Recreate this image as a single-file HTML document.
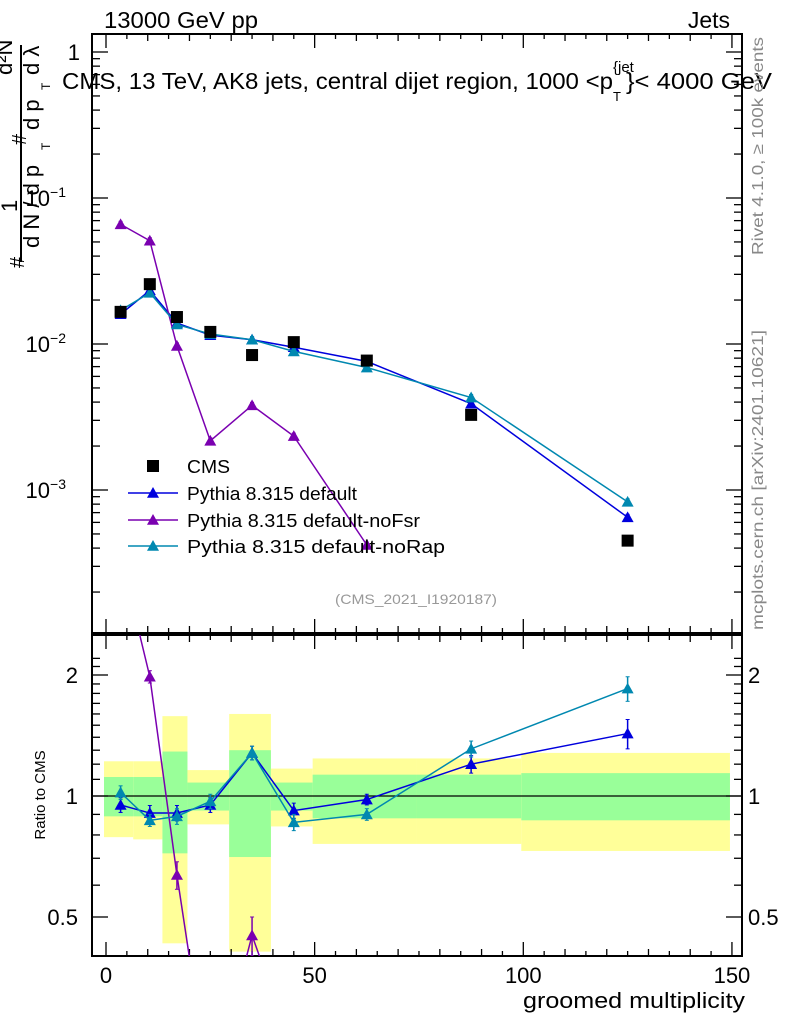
<!DOCTYPE html>
<html><head><meta charset="utf-8"><style>
html,body{margin:0;padding:0;background:#fff;overflow:hidden;width:786px;height:1024px}
svg{display:block;font-family:"Liberation Sans",sans-serif}
</style></head><body>
<svg id="c" width="786" height="1024" xmlns="http://www.w3.org/2000/svg"></svg>
<script>
const xCenters=[3.5,10.5,17,25,35,45,62.5,87.5,125];
const binEdges=[0,7,14,20,30,40,50,75,100,150];
const cmsVals=[0.0166,0.0257,0.0153,0.0121,0.0084,0.0103,0.0077,0.00327,0.00045];
const defVals=[0.0160,0.0233,0.0139,0.0115,0.0107,0.0095,0.0076,0.0039,0.00065];
const noRapVals=[0.0170,0.0224,0.0136,0.0117,0.0107,0.0089,0.0069,0.0043,0.00083];
const noFsrVals=[0.066,0.051,0.0097,0.00217,0.0038,0.00234,0.00042];
const defRatio=[0.95,0.907,0.907,0.95,1.28,0.92,0.98,1.2,1.43];
const noRapRatio=[1.02,0.87,0.89,0.97,1.28,0.86,0.90,1.31,1.85];
const noFsrRatio=[3.97,1.98,0.636,0.18,0.45,0.23,0.05];
const defRatioErr=[0.04,0.04,0.04,0.04,0.05,0.04,0.03,0.06,0.12];
const noRapRatioErr=[0.04,0.03,0.04,0.04,0.05,0.04,0.03,0.06,0.13];
const noFsrRatioErr=[0.2,0.07,0.05,0.02,0.05,0.02,0.01];
const greenHi=[1.115,1.115,1.29,1.08,1.3,1.08,1.13,1.13,1.14];
const greenLo=[0.89,0.89,0.72,0.92,0.705,0.92,0.88,0.88,0.87];
const yellowHi=[1.22,1.22,1.58,1.16,1.6,1.17,1.24,1.24,1.28];
const yellowLo=[0.79,0.78,0.43,0.85,0.41,0.84,0.76,0.76,0.73];
const xTicks=[0,50,100,150];
const ratioTicks=[0.5,1,2];

const S=document.getElementById('c');const NS='http://www.w3.org/2000/svg';
function el(t,a,p){const e=document.createElementNS(NS,t);for(const k in a)e.setAttribute(k,a[k]);(p||S).appendChild(e);return e;}
const L=92,R=742,T1=34,B1=633,T2=635,B2=956;
const X=v=>106+v*4.173;
const Y=v=>344-Math.log10(v/0.01)*146;
const YR=r=>796-Math.log2(r)*121;
const defs=el('defs',{});
const c1=el('clipPath',{id:'cp1'},defs);el('rect',{x:L,y:T1,width:R-L,height:B1-T1},c1);
const c2=el('clipPath',{id:'cp2'},defs);el('rect',{x:L,y:T2,width:R-L,height:B2-T2},c2);
const bands=el('g',{'clip-path':'url(#cp2)'});

for(let i=0;i<xCenters.length;i++){
 const x0=X(binEdges[i])-2,x1=X(binEdges[i+1])-2;
 const y=el('rect',{x:x0,y:YR(yellowHi[i]),width:x1-x0,height:YR(yellowLo[i])-YR(yellowHi[i]),fill:'#ffff99'},bands);
 
 const g=el('rect',{x:x0,y:YR(greenHi[i]),width:x1-x0,height:YR(greenLo[i])-YR(greenHi[i]),fill:'#99ff99'},bands);
 
}
el('line',{x1:L,x2:R,y1:YR(1),y2:YR(1),stroke:'#000','stroke-width':1.3});
for(const [t,b] of [[T1,B1],[T2,B2]]){const f=el('rect',{x:L,y:t,width:R-L,height:b-t,fill:'none',stroke:'#000','stroke-width':2});}
for(let v=0;v<=150;v+=5){const maj=v%50==0;const l=maj?14:(v%10==0?7:5);const x=X(v);
 for(const [t,b] of [[T1,B1],[T2,B2]]){el('line',{x1:x,x2:x,y1:b,y2:b-l,stroke:'#000','stroke-width':1.3});el('line',{x1:x,x2:x,y1:t,y2:t+l,stroke:'#000','stroke-width':1.3});}}
xTicks.forEach(v=>{const t=el('text',{x:X(v),y:983,'font-size':22,'text-anchor':'middle'});t.textContent=v;});
const xt=el('text',{x:523,y:1008,'font-size':22,textLength:222,lengthAdjust:'spacingAndGlyphs'});xt.textContent='groomed multiplicity';

for(let d=-4;d<=0;d++){for(let m=1;m<10;m++){const v=m*Math.pow(10,d);const y=Y(v);if(y<T1||y>B1)continue;const l=m==1?16:8;
 el('line',{x1:L,x2:L+l,y1:y,y2:y,stroke:'#000','stroke-width':1.3});el('line',{x1:R,x2:R-l,y1:y,y2:y,stroke:'#000','stroke-width':1.3});}}
const yl=[[1,'1',''],[0.1,'10','−1'],[0.01,'10','−2'],[0.001,'10','−3']];
yl.forEach(([v,b,e])=>{const t=el('text',{x:e?66:80,y:Y(v)+8,'font-size':22,'text-anchor':'end'});t.textContent=b;
 if(e){const s=el('tspan',{dy:-9,'font-size':14},t);s.textContent=e;}
 });
for(let r=0.4;r<=2.25;r+=0.1){const y=YR(r);if(y<T2||y>B2)continue;const maj=[0.5,1,2].some(q=>Math.abs(q-r)<1e-6);const l=maj?16:8;
 el('line',{x1:L,x2:L+l,y1:y,y2:y,stroke:'#000','stroke-width':1.3});el('line',{x1:R,x2:R-l,y1:y,y2:y,stroke:'#000','stroke-width':1.3});}
ratioTicks.forEach(r=>{for(const [x,a] of [[78,'end'],[748,'start']]){const t=el('text',{x:x,y:YR(r)+8,'font-size':22,'text-anchor':a});t.textContent=r;}});
const rt=el('text',{transform:'translate(45,795) rotate(-90)','font-size':15,'text-anchor':'middle'});rt.textContent='Ratio to CMS';

function tri(g,x,y,c,s){el('path',{d:`M${x},${y-s} L${x+s},${y+s*0.8} L${x-s},${y+s*0.8} Z`,fill:c},g);}
function series(name,xs,vals,yf,c,clip,errs){const g=el('g',{'clip-path':clip});
 el('polyline',{points:vals.map((v,i)=>X(xs[i])+','+yf(v)).join(' '),fill:'none',stroke:c,'stroke-width':1.5},g);
 vals.forEach((v,i)=>{const x=X(xs[i]),y=yf(v);let y1=y-3,y2=y+3;
  if(errs){y1=yf(v+errs[i]);y2=yf(Math.max(v-errs[i],0.01));}
  el('line',{x1:x,x2:x,y1:y1,y2:y2,stroke:c,'stroke-width':1.5},g);el('line',{x1:x-2,x2:x+2,y1:y1,y2:y1,stroke:c},g);el('line',{x1:x-2,x2:x+2,y1:y2,y2:y2,stroke:c},g);tri(g,x,y,c,6);});}
series('pythia-default-line',xCenters,defVals,Y,'#0000dd','url(#cp1)',null);
series('pythia-nofsr-line',xCenters,noFsrVals,Y,'#7a00b0','url(#cp1)',null);
series('pythia-norap-line',xCenters,noRapVals,Y,'#0088b0','url(#cp1)',null);
const cg=el('g',{'clip-path':'url(#cp1)'});
cmsVals.forEach((v,i)=>{el('rect',{x:X(xCenters[i])-6,y:Y(v)-6,width:12,height:12,fill:'#000'},cg);});
series('ratio-default',xCenters,defRatio,YR,'#0000dd','url(#cp2)',defRatioErr);
series('ratio-nofsr',xCenters,noFsrRatio,YR,'#7a00b0','url(#cp2)',noFsrRatioErr);
series('ratio-norap',xCenters,noRapRatio,YR,'#0088b0','url(#cp2)',noRapRatioErr);
const lg=el('g',{});
el('rect',{x:147,y:460,width:12,height:12,fill:'#000'},lg);
const le=[['CMS',466,null,43],['Pythia 8.315 default',493,'#0000dd',170],['Pythia 8.315 default-noFsr',520,'#7a00b0',233],['Pythia 8.315 default-noRap',546,'#0088b0',258]];
le.forEach(([n,y,c,w])=>{if(c){el('line',{x1:128,x2:178,y1:y,y2:y,stroke:c,'stroke-width':1.5},lg);tri(lg,153,y,c,6);}
 const t=el('text',{x:187,y:y+7,'font-size':18,textLength:w,lengthAdjust:'spacingAndGlyphs'},lg);t.textContent=n;});
function txt(s,a,name){const t=el('text',a);t.textContent=s;return t;}
txt('13000 GeV pp',{x:104,y:28,'font-size':23,textLength:154,lengthAdjust:'spacingAndGlyphs'},'header-left');
txt('Jets',{x:730,y:28,'font-size':23,'text-anchor':'end'},'header-right');
txt('CMS, 13 TeV, AK8 jets, central dijet region, 1000 <p',{x:62,y:89,'font-size':23,textLength:551,lengthAdjust:'spacingAndGlyphs'},'plot-title');
txt('}< 4000 GeV',{x:626,y:89,'font-size':23,textLength:146,lengthAdjust:'spacingAndGlyphs'},'plot-title-end');
txt('{jet',{x:613,y:72,'font-size':15},'title-superscript');
txt('T',{x:613,y:101,'font-size':13},'title-subscript');
txt('(CMS_2021_I1920187)',{x:335,y:604,'font-size':14,fill:'#999',textLength:162,lengthAdjust:'spacingAndGlyphs'},'analysis-id');
txt('Rivet 4.1.0, ≥ 100k events',{transform:'translate(763,255) rotate(-90)','font-size':16,fill:'#888',textLength:218,lengthAdjust:'spacingAndGlyphs'},'rivet-label');
txt('mcplots.cern.ch [arXiv:2401.10621]',{transform:'translate(763,630) rotate(-90)','font-size':16,fill:'#888',textLength:300,lengthAdjust:'spacingAndGlyphs'},'mcplots-label');
const yg=el('g',{});
el('line',{x1:21,x2:21,y1:45,y2:262,stroke:'#000','stroke-width':2},yg);
function rt2(s,x,y,fs){const t=el('text',{transform:`translate(${x},${y}) rotate(-90)`,'font-size':fs||22},yg);t.textContent=s;return t;}
rt2('#',24,268,20);
rt2('1',17,212,22);
rt2('#',26,145,20);
rt2('d²N',12,75,22);
rt2('d N / d p',39,248,22);
rt2('T',50,150,12);
rt2('d p',39,130,22);
rt2('T',50,90,12);
rt2('d λ',39,75,22);
</script>
</body></html>
